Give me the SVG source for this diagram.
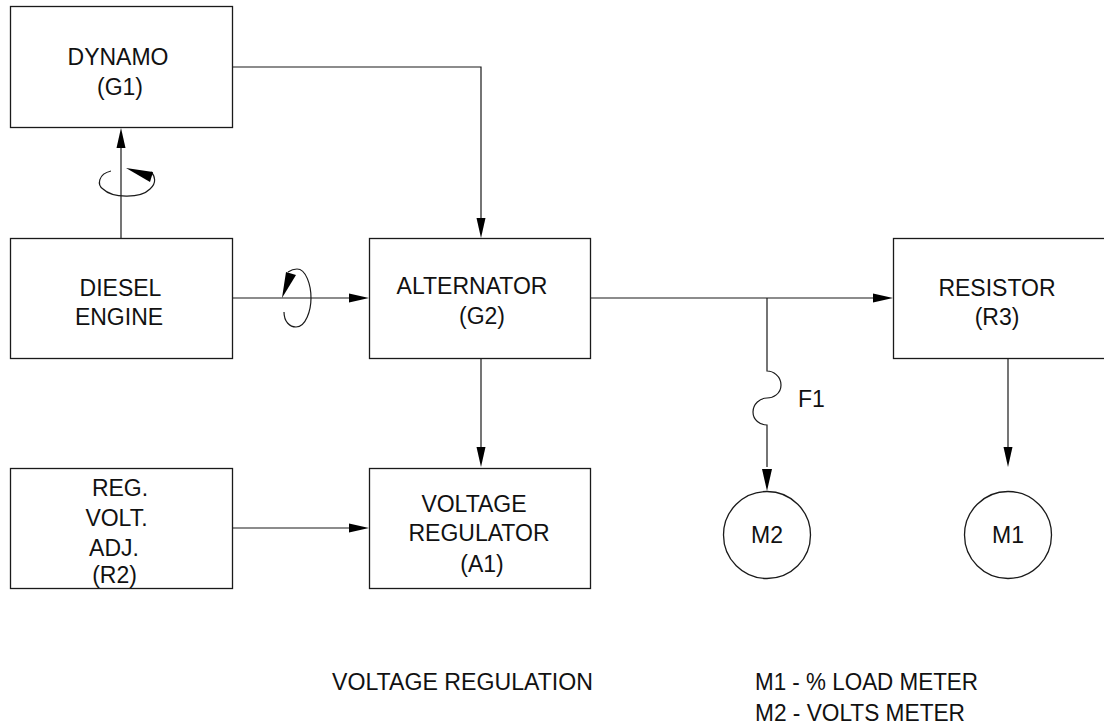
<svg xmlns="http://www.w3.org/2000/svg" width="1104" height="725" viewBox="0 0 1104 725">
<style>
.b{fill:#fff;stroke:#1a1a1a;stroke-width:1.3}
.c{fill:none;stroke:#1a1a1a;stroke-width:1.2}
.a{fill:#000;stroke:none}
text{font-family:"Liberation Sans",Arial,sans-serif;font-size:23px;fill:#111;text-anchor:middle}
.l{text-anchor:start}
</style>
<rect width="1104" height="725" fill="#fff"/>
<g id="connectors">
<path class="c" d="M232 67H481V218"/><path class="a" d="M481 238l-4.500-20h9z"/>
<path class="c" d="M121 238V148"/><path class="a" d="M121 128l-4.500 20h9z"/>
<path class="c" d="M232 298H349"/><path class="a" d="M369 298l-20-4.500v9z"/>
<path class="c" d="M590 298H873"/><path class="a" d="M893 298l-20-4.500v9z"/>
<path class="c" d="M481 358V447"/><path class="a" d="M481 467l-4.500-20h9z"/>
<path class="c" d="M232 528H349"/><path class="a" d="M369 528l-20-4.500v9z"/>
<path class="c" d="M1008 358V447"/><path class="a" d="M1008 467l-4.500-20h9z"/>
<path class="c" d="M767 298V371C773 371 781 376 781 385C781 394 773 398 767 398C760 398 753 404 753 412C753 420 760 425 767 425V467"/><path class="a" d="M767 491l-5-22h10z"/>
<path class="c" d="M111 171C98 174 97 185 103 189C112 198 140 199 150 189C157 183 155 176 151 172"/><path class="a" d="M126 168L153 172L150 182z"/>
<path class="c" d="M284 312C284 322 290 327 296 327C306 327 311 310 311 298C311 285 306 269 297 269C293 269 291 270 288 272"/><path class="a" d="M282 298L286 272L296 275z"/>
</g>
<g id="dynamo"><rect class="b" x="10.500" y="6.500" width="222" height="121"/><text x="118" y="65">DYNAMO</text><text x="120" y="95">(G1)</text></g>
<g id="diesel"><rect class="b" x="10.500" y="238.500" width="222" height="120"/><text x="120.500" y="296">DIESEL</text><text x="119" y="325">ENGINE</text></g>
<g id="alternator"><rect class="b" x="369.500" y="238.500" width="221" height="120"/><text x="472" y="294">ALTERNATOR</text><text x="482" y="324">(G2)</text></g>
<g id="resistor"><rect class="b" x="893.500" y="238.500" width="213" height="120"/><text x="997" y="296">RESISTOR</text><text x="997" y="325">(R3)</text></g>
<g id="regvolt"><rect class="b" x="10.500" y="468.500" width="222" height="120"/><text x="120" y="496">REG.</text><text x="116.500" y="526">VOLT.</text><text x="114" y="556">ADJ.</text><text x="114.500" y="583">(R2)</text></g>
<g id="regulator"><rect class="b" x="369.500" y="468.500" width="221" height="120"/><text x="474" y="512">VOLTAGE</text><text x="479" y="541">REGULATOR</text><text x="482" y="572">(A1)</text></g>
<g id="m2"><circle class="b" cx="767" cy="535" r="43.500"/><text x="767" y="543">M2</text></g>
<g id="m1"><circle class="b" cx="1008" cy="535" r="43.500"/><text x="1008" y="543">M1</text></g>
<text class="l" x="798" y="407">F1</text>
<text class="l" x="332" y="690" textLength="261" lengthAdjust="spacingAndGlyphs">VOLTAGE REGULATION</text>
<text class="l" x="755" y="690" textLength="223" lengthAdjust="spacingAndGlyphs">M1 - % LOAD METER</text>
<text class="l" x="755" y="721" textLength="210" lengthAdjust="spacingAndGlyphs">M2 - VOLTS METER</text>
</svg>
